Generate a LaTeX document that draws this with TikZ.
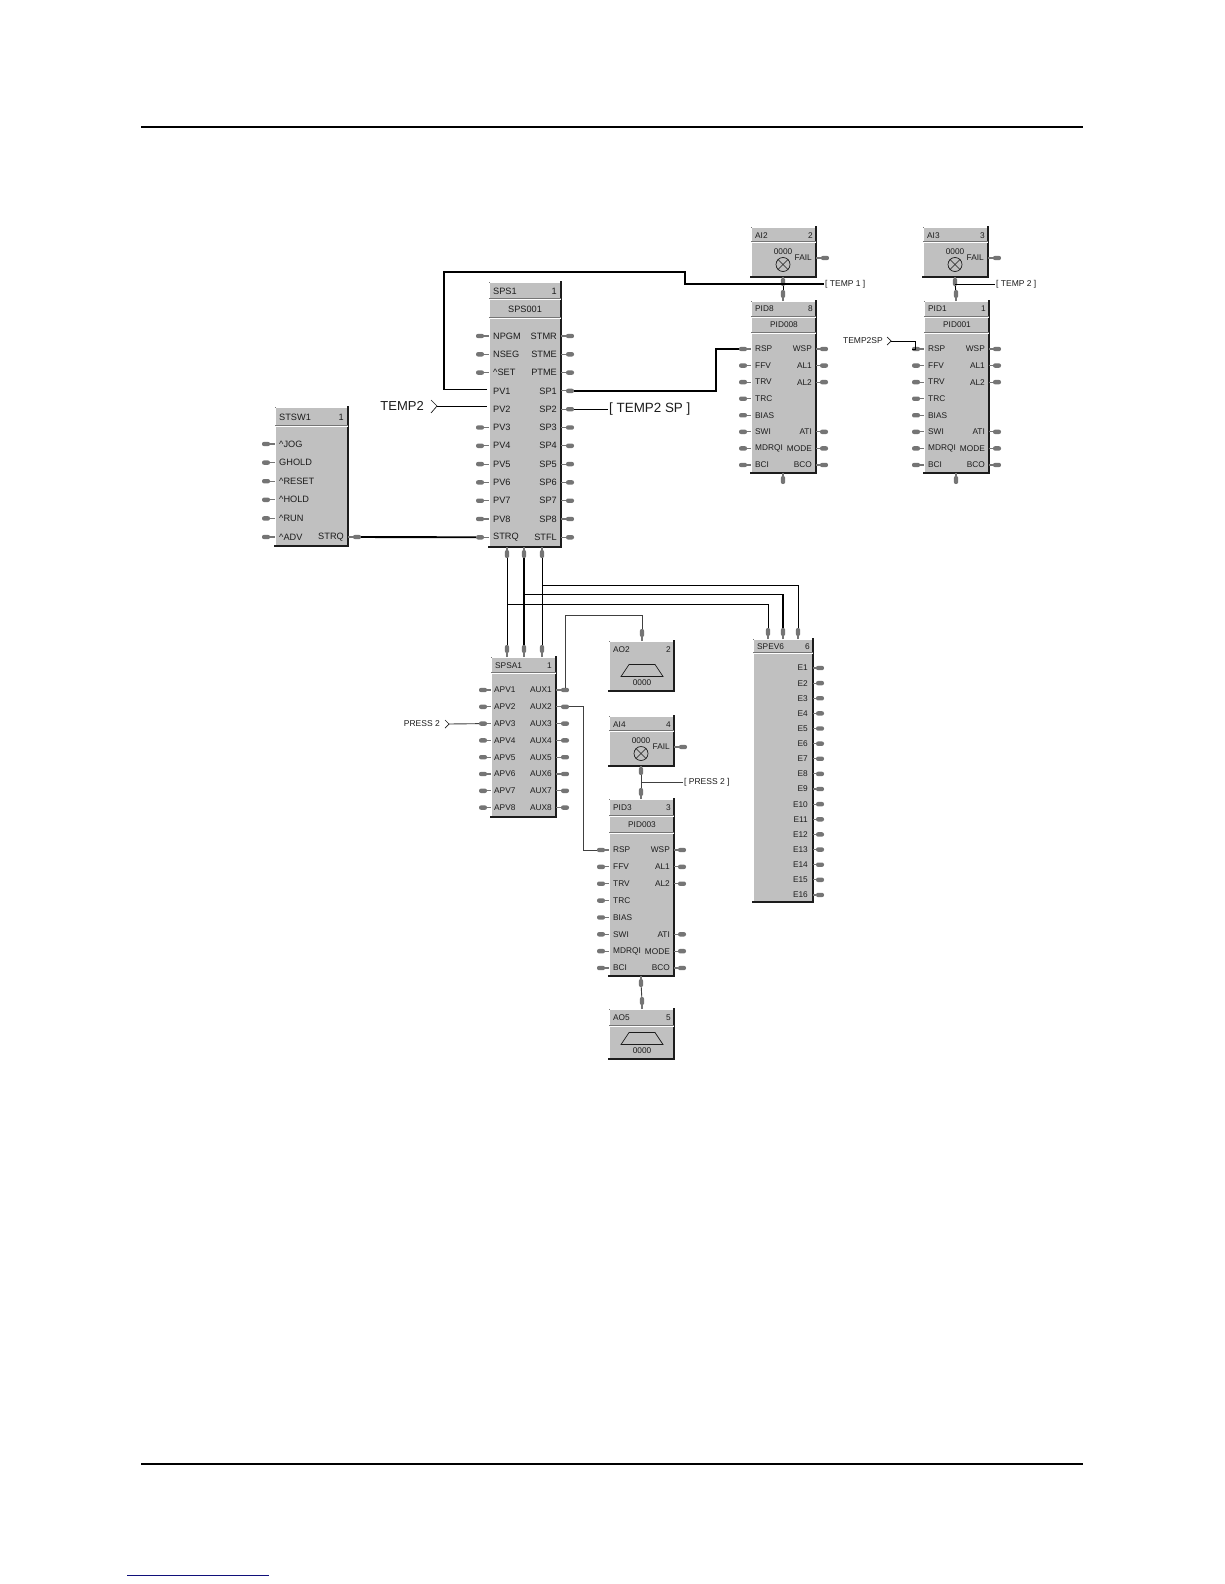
\documentclass[tikz,border=0pt]{standalone}
\usepackage{fontspec}
\setmainfont{Liberation Sans}
\definecolor{blockgray}{HTML}{C0C0C0}
\definecolor{portgray}{HTML}{757575}
\definecolor{inkdark}{HTML}{1C1C1C}
\definecolor{linkblue}{HTML}{10107A}
\tikzset{
  block/.style={
    fill=blockgray,
    draw=portgray,
    line width=0.6pt,
    inner sep=0pt,
    outer sep=0pt,
    anchor=north west,
    append after command={
      (\tikzlastnode.south west) edge[bevellight] (\tikzlastnode.north west)
      (\tikzlastnode.north west) edge[bevellight] (\tikzlastnode.north east)
      (\tikzlastnode.north east) edge[beveldark] (\tikzlastnode.south east)
      (\tikzlastnode.south east) edge[beveldark] (\tikzlastnode.south west)
    }
  },
  bevellight/.style={draw=white, line width=0.9pt, transform canvas={xshift=0.8pt,yshift=-0.8pt}},
  beveldark/.style={draw=inkdark, line width=1.5pt, line cap=rect},
  divider/.style={
    draw=white,
    line width=1pt,
    preaction={draw=portgray, line width=0.8pt, transform canvas={yshift=1pt}}
  },
  portdot/.style={
    fill=portgray,
    inner sep=0pt,
    rounded corners=2pt,
    minimum width=8pt,
    minimum height=4.4pt
  },
  portdotv/.style={
    portdot,
    minimum width=4.4pt,
    minimum height=8pt
  },
  stub/.style={draw=portgray, line width=1.1pt},
  txtbig/.style={
    text=inkdark,
    inner sep=0pt,
    font=\fontsize{9.2}{11}\selectfont
  },
  txtsmall/.style={
    text=inkdark,
    inner sep=0pt,
    font=\fontsize{8.3}{10}\selectfont
  },
  taglarge/.style={
    text=inkdark,
    inner sep=1pt,
    font=\fontsize{13}{15}\selectfont
  },
  tagsmall/.style={
    text=inkdark,
    inner sep=1pt,
    font=\fontsize{8.5}{10}\selectfont
  },
  wire/.style={draw=black, line width=0.9pt},
  heavywire/.style={draw=black, line width=1.9pt},
  lamp/.style={circle, draw=inkdark, line width=0.7pt, inner sep=0pt, minimum size=14pt},
  chevron/.style={draw=inkdark, line width=0.7pt}
}
\begin{document}
\begin{tikzpicture}[x=1pt,y=-1pt]
  \path[use as bounding box, fill=white] (0,0) rectangle (1224,1584);

  % Page rules
  \draw[black, line width=1.2pt] (141,127) -- (1083,127);
  \draw[black, line width=1.2pt] (141,1464) -- (1083,1464);
  \draw[linkblue, line width=1pt] (127,1575) -- (269,1575);

  % STSW1 block
  \node[block, minimum width=73pt, minimum height=139pt] (stsw) at (275,407) {};
  \draw[divider] (275,426) -- (348,426);
  \node[txtbig, anchor=west] (stswname) at (279,417) {STSW1};
  \node[txtbig, anchor=east] (stswnum) at (344,417) {1};
  \foreach \lbl [count=\i from 0] in {\textasciicircum JOG,GHOLD,\textasciicircum RESET,\textasciicircum HOLD,\textasciicircum RUN,\textasciicircum ADV} {
    \node[portdot] (stswl\i) at (266,{444+\i*18.6}) {};
    \draw[stub] (stswl\i) -- (275,{444+\i*18.6});
    \node[txtbig, anchor=west] (stswt\i) at (279,{444+\i*18.6}) {\lbl};
  }
  \node[portdot] (stswr) at (357,537) {};
  \draw[stub] (348,537) -- (stswr);
  \node[txtbig, anchor=east] (stswrt) at (344,537) {STRQ};

  % SPS1 block
  \node[block, minimum width=72pt, minimum height=265pt] (sps) at (489,282) {};
  \draw[divider] (489,299) -- (561,299);
  \draw[divider] (489,318) -- (561,318);
  \node[txtbig, anchor=west] (spsname) at (493,291) {SPS1};
  \node[txtbig, anchor=east] (spsnum) at (557,291) {1};
  \node[txtbig] (spssub) at (525,309) {SPS001};
  \foreach \lbl [count=\i from 0] in {NPGM,NSEG,\textasciicircum SET,PV1,PV2,PV3,PV4,PV5,PV6,PV7,PV8,STRQ} {
    \node[txtbig, anchor=west] (spst\i) at (493,{336+\i*18.3}) {\lbl};
  }
  \foreach \i in {0,1,2,5,6,7,8,9,10,11} {
    \node[portdot] (spsl\i) at (480,{336+\i*18.3}) {};
    \draw[stub] (spsl\i) -- (489,{336+\i*18.3});
  }
  \foreach \lbl [count=\i from 0] in {STMR,STME,PTME,SP1,SP2,SP3,SP4,SP5,SP6,SP7,SP8,STFL} {
    \node[portdot] (spsr\i) at (570,{336+\i*18.3}) {};
    \draw[stub] (561,{336+\i*18.3}) -- (spsr\i);
    \node[txtbig, anchor=east] (spsu\i) at (557,{336+\i*18.3}) {\lbl};
  }
  \foreach \i/\x in {1/507,2/524,3/542} {
    \node[portdotv] (spsb\i) at (\x,554) {};
    \draw[stub] (\x,547) -- (spsb\i);
  }
  \coordinate (spspv1) at (487,389.5);
  \coordinate (spspv2) at (487,406);

  % SPSA1 block
  \node[block, minimum width=65pt, minimum height=160pt] (spsa) at (491,657) {};
  \draw[divider] (491,673) -- (556,673);
  \node[txtsmall, anchor=west] (spsaname) at (495,666) {SPSA1};
  \node[txtsmall, anchor=east] (spsanum) at (552,666) {1};
  \foreach \i/\x in {1/507,2/524,3/542} {
    \node[portdotv] (spsat\i) at (\x,649) {};
    \draw[stub] (\x,657) -- (spsat\i);
  }
  \foreach \lbl [count=\i from 0] in {APV1,APV2,APV3,APV4,APV5,APV6,APV7,APV8} {
    \node[portdot] (spsal\i) at (483,{690+\i*16.8}) {};
    \draw[stub] (spsal\i) -- (491,{690+\i*16.8});
    \node[txtsmall, anchor=west] (spsat\i x) at (494,{690+\i*16.8}) {\lbl};
  }
  \foreach \lbl [count=\i from 0] in {AUX1,AUX2,AUX3,AUX4,AUX5,AUX6,AUX7,AUX8} {
    \node[portdot] (spsar\i) at (565,{690+\i*16.8}) {};
    \draw[stub] (556,{690+\i*16.8}) -- (spsar\i);
    \node[txtsmall, anchor=east] (spsau\i) at (552,{690+\i*16.8}) {\lbl};
  }

  % SPEV6 block
  \node[block, minimum width=60pt, minimum height=263pt] (spev) at (753,639) {};
  \draw[divider] (753,653) -- (813,653);
  \node[txtsmall, anchor=west] (spevname) at (757,647) {SPEV6};
  \node[txtsmall, anchor=east] (spevnum) at (810,647) {6};
  \foreach \i/\x in {1/768,2/783,3/798} {
    \node[portdotv] (spevt\i) at (\x,632) {};
    \draw[stub] (\x,639) -- (spevt\i);
  }
  \foreach \i in {1,...,16} {
    \node[portdot] (spevr\i) at (820,{668+(\i-1)*15.13}) {};
    \draw[stub] (813,{668+(\i-1)*15.13}) -- (spevr\i);
    \node[txtsmall, anchor=east] (spevu\i) at (808,{668+(\i-1)*15.13}) {E\i};
  }

  % AI blocks
  \foreach \blk/\nm/\num/\xa/\ya in {ai2/AI2/2/751/227,ai3/AI3/3/923/227,ai4/AI4/4/609/716} {
    \node[block, minimum width=65pt, minimum height=50pt] (\blk) at (\xa,\ya) {};
    \draw[divider] (\xa,\ya+15.5) -- (\xa+65,\ya+15.5);
    \node[txtsmall, anchor=west] (\blk name) at (\xa+4,\ya+8.5) {\nm};
    \node[txtsmall, anchor=east] (\blk num) at (\xa+62,\ya+8.5) {\num};
    \node[txtsmall] (\blk val) at (\xa+32,\ya+24.5) {0000};
    \node[lamp] (\blk lamp) at (\xa+32,\ya+37.5) {};
    \draw[inkdark, line width=0.6pt] (\blk lamp.north west) -- (\blk lamp.south east);
    \draw[inkdark, line width=0.6pt] (\blk lamp.north east) -- (\blk lamp.south west);
    \node[txtsmall, anchor=east] (\blk fail) at (\xa+61,\ya+31) {FAIL};
    \node[portdot] (\blk r) at (\xa+74,\ya+31) {};
    \draw[stub] (\xa+65,\ya+31) -- (\blk r);
    \node[portdotv] (\blk b) at (\xa+32,\ya+55) {};
    \draw[stub] (\xa+32,\ya+50) -- (\blk b);
  }

  % AO blocks
  \foreach \blk/\nm/\num/\ya in {ao2/AO2/2/641,ao5/AO5/5/1009} {
    \node[block, minimum width=65pt, minimum height=50pt] (\blk) at (609,\ya) {};
    \node[txtsmall, anchor=west] (\blk name) at (613,\ya+8.5) {\nm};
    \node[txtsmall, anchor=east] (\blk num) at (671,\ya+8.5) {\num};
    \draw[inkdark, line width=0.7pt] (621,\ya+35.5) -- (629,\ya+23.5) -- (655,\ya+23.5) -- (663,\ya+35.5) -- cycle;
    \node[txtsmall] (\blk val) at (642,\ya+42) {0000};
    \node[portdotv] (\blk t) at (642,\ya-8) {};
    \draw[stub] (642,\ya) -- (\blk t);
  }
  \draw[divider] (609,1026) -- (674,1026);

  % PID blocks
  \foreach \blk/\nm/\num/\subname/\xa/\ya/\hgt/\dv/\dy in {pid8/PID8/8/PID008/751/301/172/16/16.57,pid1/PID1/1/PID001/924/301/172/16/16.57,pid3/PID3/3/PID003/609/799/177/17/16.86} {
    \node[block, minimum width=65pt, minimum height=\hgt pt] (\blk) at (\xa,\ya) {};
    \draw[divider] (\xa,\ya+\dv) -- (\xa+65,\ya+\dv);
    \draw[divider] (\xa,\ya+2*\dv) -- (\xa+65,\ya+2*\dv);
    \node[txtsmall, anchor=west] (\blk name) at (\xa+4,\ya+0.5*\dv) {\nm};
    \node[txtsmall, anchor=east] (\blk num) at (\xa+62,\ya+0.5*\dv) {\num};
    \node[txtsmall] (\blk sub) at (\xa+33,\ya+1.5*\dv) {\subname};
    \node[portdotv] (\blk t) at (\xa+32,\ya-7) {};
    \draw[stub] (\xa+32,\ya) -- (\blk t);
    \node[portdotv] (\blk b) at (\xa+32,\ya+\hgt+7) {};
    \draw[stub] (\xa+32,\ya+\hgt) -- (\blk b);
    \foreach \lbl [count=\i from 0] in {RSP,FFV,TRV,TRC,BIAS,SWI,MDRQI,BCI} {
      \node[portdot] (\blk l\i) at (\xa-8,\ya+3*\dv+\i*\dy) {};
      \draw[stub] (\blk l\i) -- (\xa,\ya+3*\dv+\i*\dy);
      \node[txtsmall, anchor=west] (\blk t\i) at (\xa+4,\ya+3*\dv+\i*\dy) {\lbl};
    }
    \foreach \lbl/\i in {WSP/0,AL1/1,AL2/2,ATI/5,MODE/6,BCO/7} {
      \node[portdot] (\blk r\i) at (\xa+73,\ya+3*\dv+\i*\dy) {};
      \draw[stub] (\xa+65,\ya+3*\dv+\i*\dy) -- (\blk r\i);
      \node[txtsmall, anchor=east] (\blk u\i) at (\xa+61,\ya+3*\dv+\i*\dy) {\lbl};
    }
  }

  % Input and output tags
  \node[taglarge, anchor=east] (temp2tag) at (425,406) {TEMP2};
  \draw[chevron] (431,400) -- (437,406) -- (431,413);
  \coordinate (temp2tip) at (437,406);
  \node[taglarge, anchor=west, font=\fontsize{13.4}{15}\selectfont] (temp2sptag) at (608,409) {[ TEMP2 SP ]};
  \node[tagsmall, anchor=west] (temp1out) at (824,284) {[ TEMP 1 ]};
  \node[tagsmall, anchor=west] (temp2out) at (995,284) {[ TEMP 2 ]};
  \node[tagsmall, anchor=east] (tempsptag) at (884,341) {TEMP2SP};
  \draw[chevron] (887,337) -- (891,341) -- (887,345);
  \coordinate (tempsptip) at (891,341);
  \node[tagsmall, anchor=east] (press2tag) at (441,724) {PRESS 2};
  \draw[chevron] (445,720) -- (449,724) -- (445,728);
  \coordinate (press2tip) at (449,724);
  \node[tagsmall, anchor=west] (press2out) at (683,782) {[ PRESS 2 ]};

  % Bends and tee points
  \coordinate (temp1a) at (444,272);
  \coordinate (temp1b) at (685,272);
  \coordinate (temp2tee) at (955,284);
  \coordinate (press2tee) at (641,782);
  \coordinate (sp1bend) at (716,349);
  \coordinate (tempspbend) at (915,349);
  \coordinate (tee1) at (507,604);
  \coordinate (tee2) at (524,594);
  \coordinate (tee3) at (542,585);
  \coordinate (aux1bend) at (565,615);
  \coordinate (aux2bend) at (583,850);

  % Connectors
  \draw[wire, line width=1.3pt] (spspv1) -| (temp1a) -- (temp1b) |- (temp1out.west);
  \draw[wire] (temp2tip) -- (spspv2);
  \draw[heavywire] (stswr) -- (spsl11);
  \draw[wire, line width=1.3pt] (spsr3) -| (sp1bend) -- (pid8l0);
  \draw[wire, line width=1.3pt] (spsr4) -- (temp2sptag.west |- spsr4);
  \draw[wire] (ai2b) -- (pid8t);
  \draw[wire] (ai3b) -- (pid1t);
  \draw[wire] (temp2tee) -- (temp2out.west);
  \draw[wire] (tempsptip) -| (tempspbend) -- (pid1l0);
  \draw[wire] (spsb1) -- (spsat1);
  \draw[heavywire] (spsb2) -- (spsat2);
  \draw[wire] (spsb3) -- (spsat3);
  \draw[wire] (tee1) -| (spevt1);
  \draw[wire] (tee2) -| (spevt2);
  \draw[heavywire] (783,594) -- (spevt2);
  \draw[wire] (tee3) -| (spevt3);
  \draw[wire, draw=black!75] (press2tip) -- (spsal2);
  \draw[wire, draw=black!75] (spsar0) -- (aux1bend) -| (ao2t);
  \draw[wire, draw=black!75] (spsar1) -| (aux2bend) -- (pid3l0);
  \draw[wire, draw=black!75] (ai4b) -- (pid3t);
  \draw[wire, draw=black!75] (press2tee) -- (press2out.west);
  \draw[wire, draw=black!75] (pid3b) -- (ao5t);
\end{tikzpicture}
\end{document}
